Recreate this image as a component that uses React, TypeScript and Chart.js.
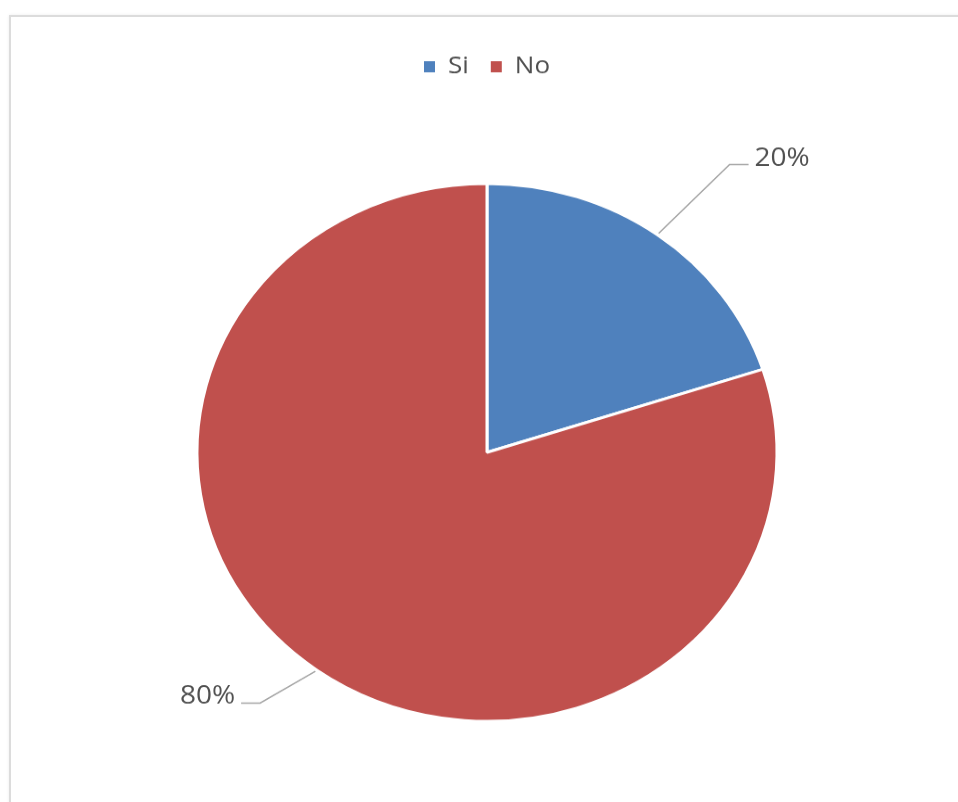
import React, { useEffect, useRef } from "react";
import { Chart, registerables } from "chart.js";

Chart.register(...registerables);

const categories: string[] = ["Si", "No"];
const values: number[] = [20, 80];
const valueLabels: string[] = ["20%", "80%"];
const colors: string[] = ["#4F81BD", "#C0504D"];

const SCALE_Y = 0.927;
const CANVAS_W = 958;
const CANVAS_H = 1000;
const FONT = "'Open Sans', 'DejaVu Sans', sans-serif";

const leaderPlugin = {
  id: "leaders",
  afterDatasetsDraw(chart: any, _args: any, opts: any) {
    const meta = chart.getDatasetMeta(0);
    const ctx = chart.ctx;
    ctx.save();
    meta.data.forEach((arc: any, i: number) => {
      const p = arc.getProps(["x", "y", "startAngle", "endAngle", "outerRadius"], true);
      const mid = (p.startAngle + p.endAngle) / 2;
      const a = mid + (opts.angleOffsets[i] * Math.PI) / 180;
      const r0 = p.outerRadius + 2;
      const r1 = p.outerRadius + opts.extents[i];
      const x0 = p.x + Math.cos(mid) * r0;
      const y0 = p.y + Math.sin(mid) * r0;
      const x1 = p.x + Math.cos(a) * r1;
      const y1 = p.y + Math.sin(a) * r1;
      const right = Math.cos(a) >= 0;
      const x2 = x1 + (right ? opts.tail : -opts.tail);
      ctx.beginPath();
      ctx.strokeStyle = opts.lineColor;
      ctx.lineWidth = 1.5;
      ctx.moveTo(x0, y0);
      ctx.lineTo(x1, y1);
      ctx.lineTo(x2, y1);
      ctx.stroke();
      ctx.fillStyle = opts.textColor;
      ctx.font = `${opts.fontSize}px ${FONT}`;
      ctx.textBaseline = "alphabetic";
      ctx.textAlign = right ? "left" : "right";
      ctx.fillText(valueLabels[i], x2 + (right ? opts.gap : -opts.gap), y1 + 1);
    });
    ctx.restore();
  },
};

export default function App() {
  const ref = useRef<HTMLCanvasElement>(null);
  useEffect(() => {
    if (!ref.current) return;
    const chart = new Chart(ref.current, {
      type: "pie",
      data: {
        labels: categories,
        datasets: [
          {
            data: values,
            backgroundColor: colors,
            borderColor: "#ffffff",
            borderWidth: 3,
          },
        ],
      },
      plugins: [leaderPlugin],
      options: {
        responsive: false,
        animation: false,
        radius: 290,
        layout: { padding: { top: 37, left: 16, right: 0, bottom: 119 } },
        plugins: {
          tooltip: { enabled: false },
          legend: {
            display: true,
            position: "top",
            labels: {
              boxWidth: 11,
              boxHeight: 12,
              padding: 22,
              color: "#505050",
              font: { family: FONT, size: 26 },
              generateLabels: (chart: any) => {
                const base = Chart.overrides.pie.plugins.legend.labels.generateLabels(chart);
                return base.map((item: any) => ({ ...item, lineWidth: 0, strokeStyle: "transparent" }));
              },
            },
          },
          leaders: {
            extents: [104, 63],
            angleOffsets: [2, 4],
            tail: 19,
            gap: 6,
            fontSize: 28,
            lineColor: "#a6a6a6",
            textColor: "#505050",
          },
        } as any,
      },
    });
    return () => chart.destroy();
  }, []);

  return (
    <div
      style={{
        position: "fixed",
        left: 0,
        top: 0,
        width: 958,
        height: 802,
        overflow: "hidden",
        background: "#ffffff",
      }}
    >
      <div
        style={{
          position: "absolute",
          left: 9,
          top: 15,
          width: 1000,
          height: 900,
          border: "2px solid #dcdcdc",
          boxShadow: "0 0 3px rgba(0,0,0,0.08)",
        }}
      />
      <div
        style={{
          position: "absolute",
          left: 0,
          top: 0,
          width: CANVAS_W,
          height: CANVAS_H,
          transform: `scaleY(${SCALE_Y})`,
          transformOrigin: "0 0",
        }}
      >
        <canvas ref={ref} width={CANVAS_W} height={CANVAS_H} />
      </div>
    </div>
  );
}
